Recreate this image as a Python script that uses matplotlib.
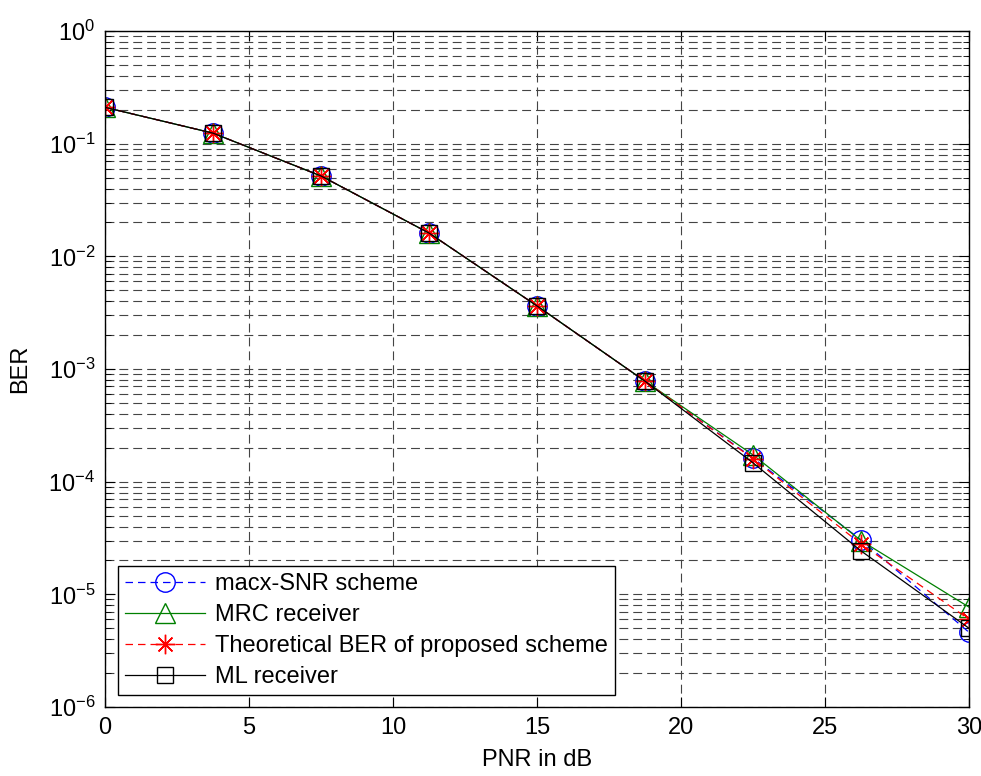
import matplotlib.pyplot as plt
from matplotlib.ticker import LogLocator, NullFormatter

plt.rcParams["font.family"] = ["Liberation Sans", "DejaVu Sans"]
plt.rcParams["mathtext.fontset"] = "custom"
plt.rcParams["mathtext.rm"] = "Liberation Sans"
plt.rcParams["mathtext.default"] = "regular"

# datos
pnr = [0, 3.75, 7.5, 11.25, 15, 18.75, 22.5, 26.25, 30]
ber_maxsnr = [0.21, 0.124, 0.0517, 0.0161, 0.00363, 7.8e-4, 1.62e-4, 3.05e-5, 4.6e-6]
ber_mrc = [0.21, 0.124, 0.0517, 0.0161, 0.00363, 7.8e-4, 1.73e-4, 3.0e-5, 7.7e-6]
ber_theory = [0.21, 0.124, 0.0517, 0.0161, 0.00363, 7.8e-4, 1.6e-4, 2.8e-5, 6.0e-6]
ber_ml = [0.21, 0.124, 0.0517, 0.0161, 0.00363, 7.8e-4, 1.47e-4, 2.43e-5, 5.0e-6]

fig = plt.figure(figsize=(9.81, 7.76), dpi=100)
ax = fig.add_axes([105 / 981, 1 - 707 / 776, 864 / 981, 676 / 776])

ax.semilogy(pnr, ber_maxsnr, color="blue", linestyle=(0, (6, 4)), marker="o",
            markersize=14, markerfacecolor="none", linewidth=0.9, label="macx-SNR scheme")
ax.semilogy(pnr, ber_mrc, color="green", linestyle="-", marker="^",
            markersize=15, markerfacecolor="none", linewidth=0.9, label="MRC receiver")
ax.semilogy(pnr, ber_theory, color="red", linestyle=(0, (6, 4)), marker=(8, 2, 0),
            markersize=14, linewidth=0.9, label="Theoretical BER of proposed scheme")
ax.semilogy(pnr, ber_ml, color="black", linestyle="-", marker="s",
            markersize=12, markerfacecolor="none", linewidth=0.9, label="ML receiver")

ax.set_xlim(0, 30)
ax.set_ylim(1e-6, 1)
ax.set_xticks([0, 5, 10, 15, 20, 25, 30])
ax.yaxis.set_major_locator(LogLocator(base=10, numticks=10))
ax.yaxis.set_minor_locator(LogLocator(base=10, subs=range(2, 10), numticks=100))
ax.yaxis.set_minor_formatter(NullFormatter())

ax.grid(True, which="major", axis="both", color="#444444", linestyle=(0, (8, 4.5)), linewidth=0.8)
ax.grid(True, which="minor", axis="y", color="#444444", linestyle=(0, (8, 4.5)), linewidth=0.8)

ax.tick_params(which="both", direction="in", top=True, right=True, labelsize=17)
ax.tick_params(which="major", length=7, pad=7)
ax.tick_params(which="minor", length=4)
for s in ax.spines.values():
    s.set_linewidth(1)

ax.set_xlabel("PNR in dB", fontsize=17)
ax.xaxis.set_label_coords(0.5, -0.078)
ax.xaxis.label.set_va("center")
ax.set_ylabel("BER", fontsize=17)
ax.yaxis.set_label_coords(-0.098, 0.5)
ax.yaxis.label.set_va("center")

leg = ax.legend(loc="lower left", bbox_to_anchor=(13 / 864, 12 / 676), fontsize=17,
                handlelength=3.4, handletextpad=0.4, frameon=True, fancybox=False,
                edgecolor="black", framealpha=1, borderpad=0.3, labelspacing=0.38,
                borderaxespad=0)
leg.get_frame().set_linewidth(1)

fig.savefig("out.png", dpi=100)
